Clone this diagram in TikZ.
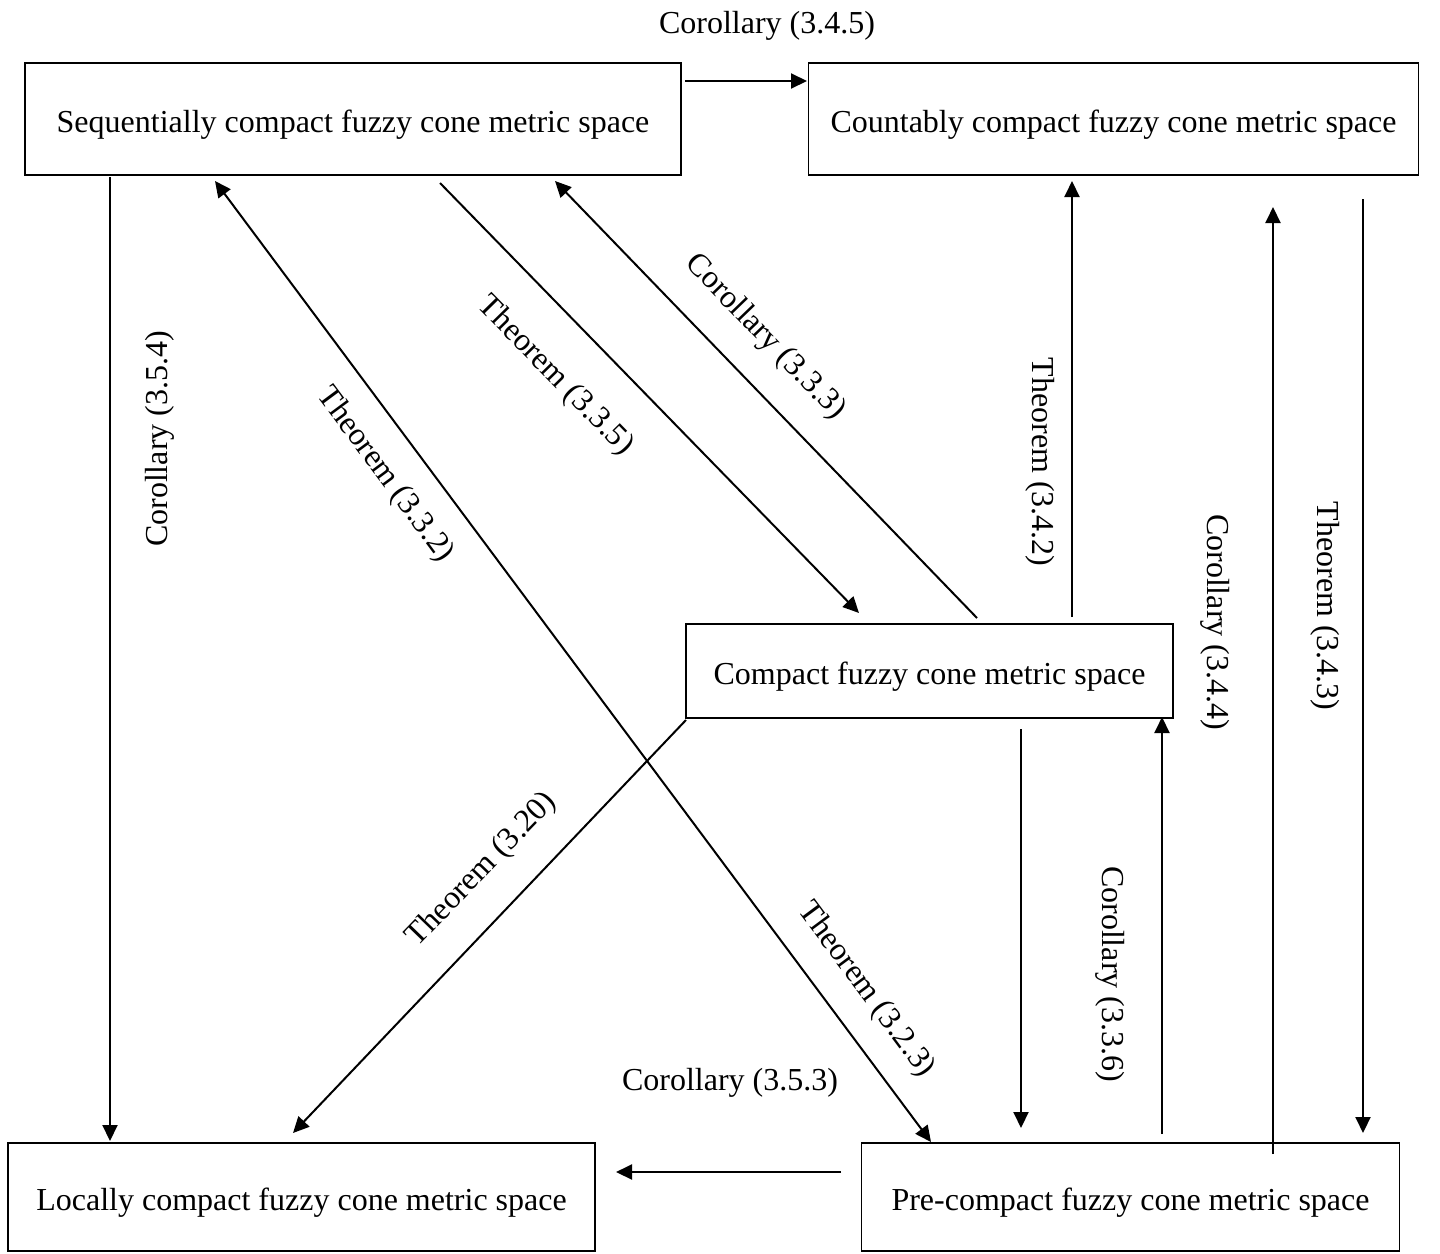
\documentclass[tikz,border=0pt]{standalone}
\usepackage{fontspec}
\setmainfont{Liberation Serif}
\usetikzlibrary{arrows.meta}
\begin{document}
\begin{tikzpicture}[x=1pt,y=-1pt,
  box/.style={draw, line width=1.2pt, inner sep=0pt, text height=32pt, text depth=6pt, font=\fontsize{32}{38}\selectfont},
  arr/.style={line width=2pt, -{Triangle[length=16pt,width=15pt]}},
  darr/.style={line width=2pt, {Triangle[length=16pt,width=15pt]}-{Triangle[length=16pt,width=15pt]}},
  lbl/.style={font=\fontsize{32}{38}\selectfont, inner sep=0pt}]
\useasboundingbox (0,0) rectangle (1440,1253);
% boxes
\node[box, minimum width=656pt, minimum height=112pt] (seq) at (353,119) {Sequentially compact fuzzy cone metric space};
\node[box, minimum width=610pt, minimum height=112pt] (cnt) at (1113.5,119) {Countably compact fuzzy cone metric space};
\node[box, minimum width=487pt, minimum height=94pt] (cmp) at (929.5,671) {Compact fuzzy cone metric space};
\node[box, minimum width=587pt, minimum height=108pt] (loc) at (301.5,1197) {Locally compact fuzzy cone metric space};
\node[box, minimum width=538pt, minimum height=108pt] (pre) at (1130.5,1197) {Pre-compact fuzzy cone metric space};
% connector end points
\coordinate (a1) at (685,81);   \coordinate (a2) at (807,81);
\coordinate (b1) at (110,177);  \coordinate (b2) at (110,1141);
\coordinate (c1) at (215,181);  \coordinate (c2) at (931,1142);
\coordinate (d1) at (440,183);  \coordinate (d2) at (859,613);
\coordinate (e1) at (977,618);  \coordinate (e2) at (555,181);
\coordinate (f1) at (1072,617); \coordinate (f2) at (1072,181);
\coordinate (g1) at (1273,1154);\coordinate (g2) at (1273,207);
\coordinate (h1) at (1363,199); \coordinate (h2) at (1363,1133);
\coordinate (i1) at (1021,729); \coordinate (i2) at (1021,1128);
\coordinate (j1) at (1162,1134);\coordinate (j2) at (1162,717);
\coordinate (k1) at (686,720);  \coordinate (k2) at (293,1133);
\coordinate (l1) at (841,1172); \coordinate (l2) at (616,1172);
% connectors
\draw[arr] (a1) -- (a2);
\draw[arr] (b1) -- (b2);
\draw[darr] (c1) -- (c2);
\draw[arr] (d1) -- (d2);
\draw[arr] (e1) -- (e2);
\draw[arr] (f1) -- (f2);
\draw[arr] (g1) -- (g2);
\draw[arr] (h1) -- (h2);
\draw[arr] (i1) -- (i2);
\draw[arr] (j1) -- (j2);
\draw[arr] (k1) -- (k2);
\draw[arr] (l1) -- (l2);
% labels
\node[lbl] (la) at (767,26) {Corollary (3.4.5)};
\node[lbl, rotate=90] (lb) at (160,439) {Corollary (3.5.4)};
\node[lbl, rotate=-53.4] (lc) at (385,475) {Theorem (3.3.2)};
\node[lbl, rotate=-45.6] (ld) at (555,376) {Theorem (3.3.5)};
\node[lbl, rotate=-46] (le) at (765,337) {Corollary (3.3.3)};
\node[lbl, rotate=-90] (lf) at (1040,462) {Theorem (3.4.2)};
\node[lbl, rotate=-90] (lg) at (1215,622) {Corollary (3.4.4)};
\node[lbl, rotate=-90] (lh) at (1325,606) {Theorem (3.4.3)};
\node[lbl, rotate=46] (lk) at (482,870) {Theorem (3.20)};
\node[lbl, rotate=-53.4] (lc2) at (866,990) {Theorem (3.2.3)};
\node[lbl, rotate=-90] (lj) at (1110,974) {Corollary (3.3.6)};
\node[lbl] (ll) at (730,1083) {Corollary (3.5.3)};
\end{tikzpicture}
\end{document}
